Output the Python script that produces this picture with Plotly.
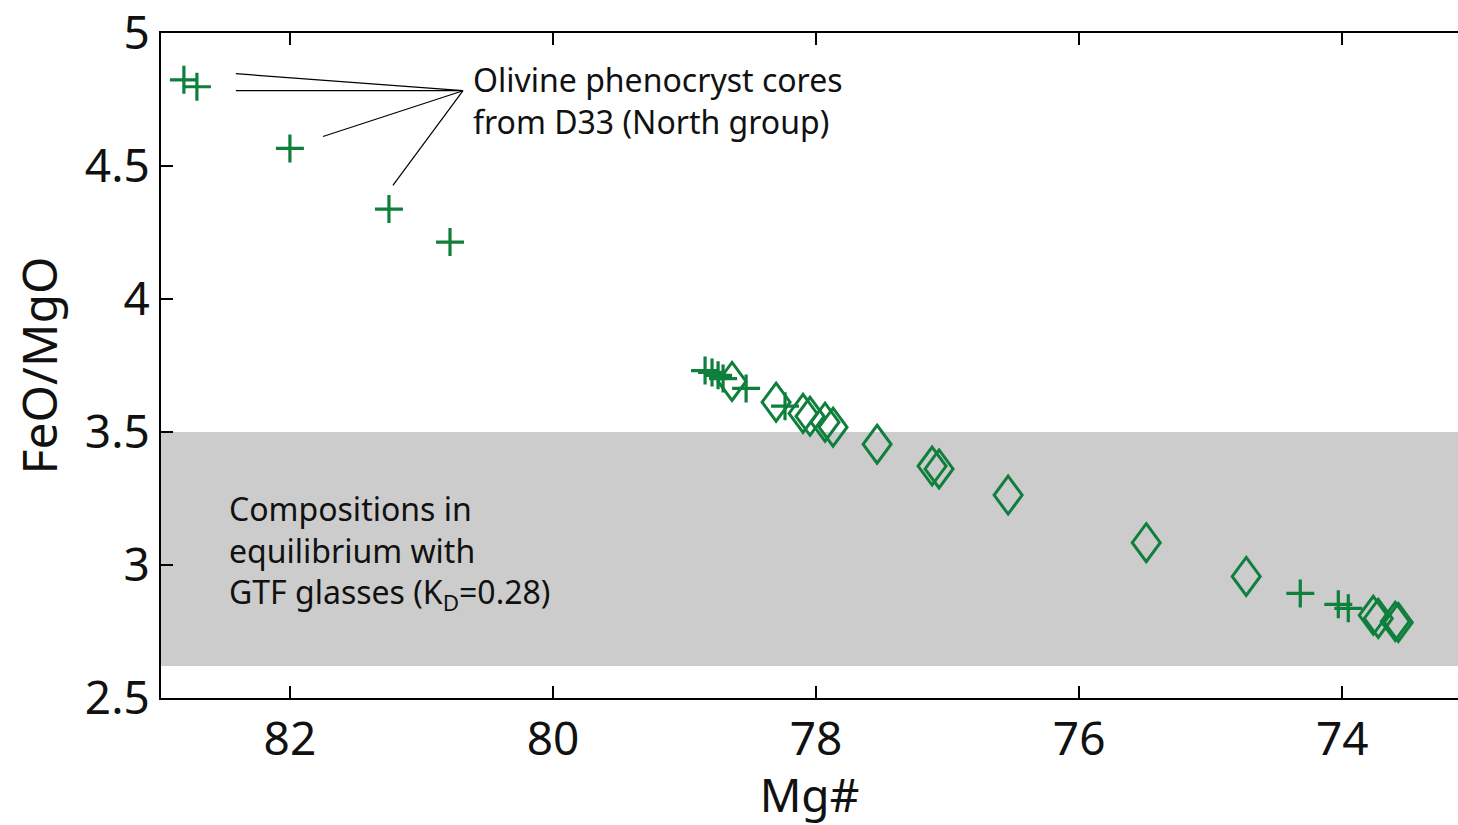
import plotly.graph_objects as go

# Olivine phenocryst cores (D33, North group): Mg# vs FeO/MgO of equilibrium melt
cross_mg = [82.806, 82.707, 82.0, 81.247, 80.783, 78.844, 78.791, 78.745, 78.707,
            78.532, 78.236, 74.319, 74.030, 73.954]
cross_ratio = [4.824, 4.798, 4.566, 4.338, 4.214, 3.731, 3.724, 3.713, 3.701,
               3.664, 3.597, 2.893, 2.852, 2.837]

# Second olivine population (open diamonds)
diam_mg = [78.639, 78.304, 78.099, 78.046, 77.932, 77.871, 77.536, 77.118, 77.065,
           76.540, 75.490, 74.730, 73.764, 73.726, 73.597, 73.574]
diam_ratio = [3.690, 3.612, 3.570, 3.559, 3.537, 3.518, 3.454, 3.372, 3.361,
              3.263, 3.084, 2.957, 2.811, 2.799, 2.788, 2.784]

# Equilibrium band with GTF glasses (KD = 0.28)
band_low, band_high = 2.62, 3.5

x_ticks = [82, 80, 78, 76, 74]
y_ticks = [2.5, 3, 3.5, 4, 4.5, 5]
y_tick_text = ["2.5", "3", "3.5", "4", "4.5", "5"]

GREEN = "#0f7f3c"
INK = "#111111"
FONT = "Noto Sans"

fig = go.Figure()

fig.add_trace(go.Scatter(
    x=cross_mg, y=cross_ratio, mode="markers",
    marker=dict(symbol="cross-thin-open", size=20, color=GREEN,
                line=dict(color=GREEN, width=3.2)),
    showlegend=False, hoverinfo="x+y",
))

shapes = [dict(type="rect", xref="paper", yref="y", x0=0, x1=1,
               y0=band_low, y1=band_high, fillcolor="#cccccc",
               line=dict(width=0), layer="below")]

# tall open diamonds, fixed pixel size, anchored on each data point
for mx, ry in zip(diam_mg, diam_ratio):
    shapes.append(dict(
        type="path", xref="x", yref="y",
        xsizemode="pixel", ysizemode="pixel", xanchor=mx, yanchor=ry,
        path="M0,19 L14,0 L0,-19 L-14,0 Z",
        line=dict(color=GREEN, width=3), fillcolor="rgba(0,0,0,0)",
        layer="above",
    ))

# leader lines from the label to the phenocryst cores
hub = (80.684, 4.783)
leader_ends = [(82.411, 4.847), (82.411, 4.783), (81.749, 4.611), (81.217, 4.427)]
for ex, ey in leader_ends:
    shapes.append(dict(type="line", xref="x", yref="y", x0=hub[0], y0=hub[1],
                       x1=ex, y1=ey, line=dict(color="black", width=1.2),
                       layer="above"))

fig.update_layout(
    width=1458, height=825,
    margin=dict(l=161, r=0, t=30, b=127),
    paper_bgcolor="white", plot_bgcolor="white",
    font=dict(family=FONT, color=INK),
    shapes=shapes,
    showlegend=False,
    annotations=[
        dict(x=80.624, y=4.745, xref="x", yref="y", xanchor="left", yanchor="middle",
             text="Olivine phenocryst cores<br>from D33 (North group)",
             showarrow=False, align="left", font=dict(size=32, family=FONT, color=INK)),
        dict(x=82.479, y=3.046, xref="x", yref="y", xanchor="left", yanchor="middle",
             text="Compositions in<br>equilibrium with<br>GTF glasses (K<sub>D</sub>=0.28)",
             showarrow=False, align="left", font=dict(size=32, family=FONT, color=INK)),
    ],
)

fig.update_xaxes(
    range=[82.98, 73.12], tickvals=x_ticks, ticktext=[str(v) for v in x_ticks],
    ticks="inside", ticklen=12, tickwidth=1.5, tickcolor="black",
    showline=True, linecolor="black", linewidth=2, mirror="ticks",
    showgrid=False, zeroline=False,
    tickfont=dict(size=46, family=FONT, color=INK),
    title=dict(text="Mg#", font=dict(size=46, family=FONT, color=INK), standoff=8),
)
fig.update_yaxes(
    range=[2.5, 5.0], tickvals=y_ticks, ticktext=y_tick_text,
    ticklabeloverflow="allow",
    ticks="inside", ticklen=12, tickwidth=1.5, tickcolor="black",
    showline=True, linecolor="black", linewidth=2, mirror=False,
    showgrid=False, zeroline=False,
    tickfont=dict(size=46, family=FONT, color=INK),
    title=dict(text="FeO/MgO", font=dict(size=48, family=FONT, color=INK), standoff=12),
)

fig.write_html("out.html")
